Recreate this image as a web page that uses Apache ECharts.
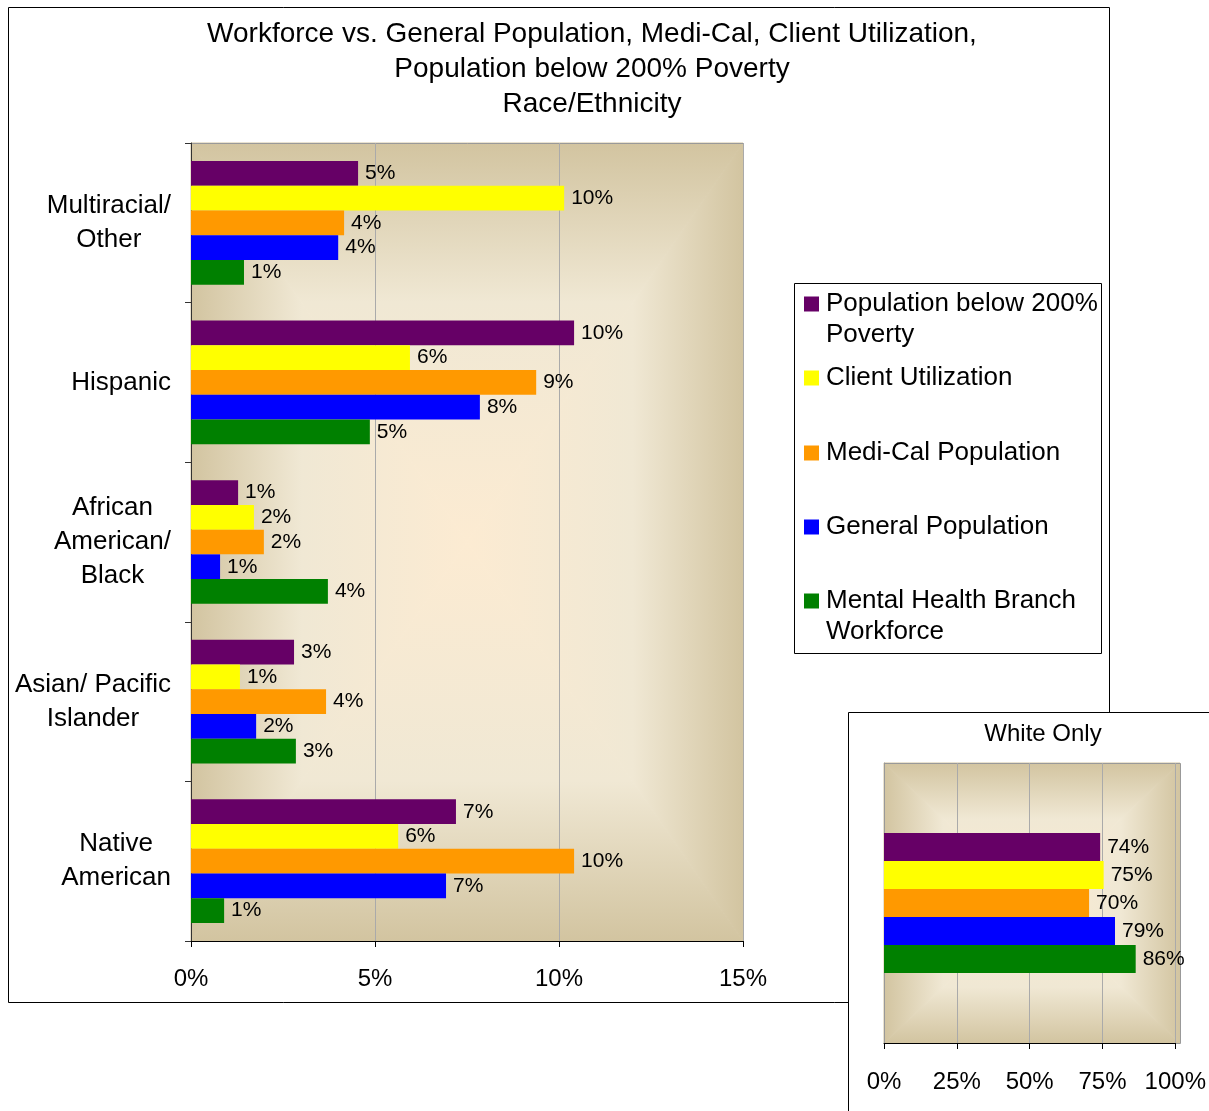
<!DOCTYPE html>
<html>
<head>
<meta charset="utf-8">
<script src="https://cdn.jsdelivr.net/npm/echarts@6/dist/echarts.min.js"></script>
<style>
  html, body { margin: 0; padding: 0; background: #fff; }
  #chart { width: 1209px; height: 1111px; }
</style>
</head>
<body>
<div id="chart"></div>
<script>
// data (percent)
var categories = ['Multiracial/\nOther', 'Hispanic', 'African\nAmerican/\nBlack', 'Asian/ Pacific\nIslander', 'Native\nAmerican'];
var seriesNames = ['Population below 200%\nPoverty', 'Client Utilization', 'Medi-Cal Population', 'General Population', 'Mental Health Branch\nWorkforce'];
var seriesColors = ['#660066', '#FFFF00', '#FF9900', '#0000FF', '#008000'];

var povertyValues = [4.54, 10.41, 1.28, 2.80, 7.20];
var clientValues = [10.14, 5.95, 1.71, 1.33, 5.63];
var mediCalValues = [4.16, 9.38, 1.98, 3.67, 10.41];
var generalValues = [4.00, 7.85, 0.79, 1.77, 6.93];
var workforceValues = [1.44, 4.86, 3.72, 2.85, 0.90];

var whiteCategory = ['White Only'];
var whiteValues = [74.2, 75.4, 70.4, 79.3, 86.4];

var mainTicks = [0, 5, 10, 15];
var whiteTicks = [0, 25, 50, 75, 100];

var mainSeriesValues = [povertyValues, clientValues, mediCalValues, generalValues, workforceValues];

var chart = echarts.init(document.getElementById('chart'));
var font = 'Liberation Sans, Arial, sans-serif';

// plot rectangles
var mainGrid = { left: 191, top: 143, width: 552, height: 798 };
var whiteGrid = { left: 884, top: 763, width: 296, height: 280 };

// Excel style "from centre" gradient, built from four triangles
function frame(g, z) {
    var x = g.left, y = g.top, w = g.width, h = g.height;
    var cx = x + w / 2, cy = y + h / 2;
    var stops = [
        { offset: 0, color: '#D2C4A0' },
        { offset: 0.4, color: '#F0E8D4' },
        { offset: 1, color: '#FCEBD2' }
    ];
    function tri(points, x1, y1, x2, y2) {
        var fill = new echarts.graphic.LinearGradient(x1, y1, x2, y2, stops);
        return { type: 'polygon', z: z, silent: true, shape: { points: points }, style: { fill: fill, stroke: fill, lineWidth: 1 } };
    }
    return [
        tri([[x, y], [x + w, y], [cx, cy]], 0, 0, 0, 1),
        tri([[x, y + h], [x + w, y + h], [cx, cy]], 0, 1, 0, 0),
        tri([[x, y], [x, y + h], [cx, cy]], 0, 0, 1, 0),
        tri([[x + w, y], [x + w, y + h], [cx, cy]], 1, 0, 0, 0),
        { type: 'rect', z: z + 0.5, silent: true, shape: { x: x + 0.5, y: y + 0.5, width: w, height: h }, style: { fill: 'none', stroke: '#999', lineWidth: 1 } }
    ];
}

var graphics = [
    { type: 'rect', z: 0, silent: true, shape: { x: 8.5, y: 7.5, width: 1101, height: 995 }, style: { fill: '#fff', stroke: '#000', lineWidth: 1 } },
    { type: 'rect', z: 0.6, silent: true, shape: { x: 848.5, y: 712.5, width: 400, height: 420 }, style: { fill: '#fff', stroke: '#000', lineWidth: 1 } },
    { type: 'rect', z: 0.6, silent: true, shape: { x: 794.5, y: 283.5, width: 307, height: 370 }, style: { fill: '#fff', stroke: '#000', lineWidth: 1 } }
].concat(frame(mainGrid, 1)).concat(frame(whiteGrid, 1));

function pct(p) {
    return Math.round(p.value) + '%';
}

function centered(value) {
    return value.split('\n').map(function (s) { return '{c|' + s + '}'; }).join('\n');
}

var series = [];
seriesNames.forEach(function (name, i) {
    series.push({
        name: name,
        type: 'bar',
        xAxisIndex: 0,
        yAxisIndex: 0,
        z: 4,
        barGap: 0,
        barCategoryGap: '22.5%',
        itemStyle: { color: seriesColors[i] },
        label: { show: true, position: 'right', distance: 7, formatter: pct, fontSize: 21, fontFamily: font, color: '#000' },
        data: mainSeriesValues[i]
    });
    series.push({
        name: name,
        type: 'bar',
        xAxisIndex: 1,
        yAxisIndex: 1,
        z: 4,
        barGap: 0,
        barCategoryGap: '50%',
        itemStyle: { color: seriesColors[i] },
        label: { show: true, position: 'right', distance: 7, formatter: pct, fontSize: 21, fontFamily: font, color: '#000' },
        data: [whiteValues[i]]
    });
});

// one legend per entry so the spacing can match the picture;
// a leading blank line puts the first text line level with the marker
var legendTops = [304, 378, 453, 527, 601];
var legends = seriesNames.map(function (name, i) {
    var twoLines = name.indexOf('\n') >= 0;
    return {
        data: [name],
        orient: 'vertical',
        left: 804,
        top: legendTops[i] - (twoLines ? 46.5 : 15.5),
        padding: 0,
        itemWidth: 15,
        itemHeight: 15,
        itemGap: 0,
        icon: 'rect',
        selectedMode: false,
        z: 5,
        formatter: function (n) {
            var lines = n.split('\n').map(function (s) { return '{t|' + s + '}'; });
            return (lines.length > 1 ? '\n' : '') + lines.join('\n');
        },
        textStyle: {
            fontSize: 26, fontFamily: font, color: '#000', lineHeight: 31,
            rich: { t: { fontSize: 26, fontFamily: font, color: '#000', lineHeight: 31, padding: [0, 0, 0, 2] } }
        }
    };
});

var option = {
    animation: false,
    textStyle: { fontFamily: font },
    title: [
        {
            text: 'Workforce vs. General Population, Medi-Cal, Client Utilization,\nPopulation below 200% Poverty\nRace/Ethnicity',
            left: 587, top: 12, textAlign: 'center',
            textStyle: { fontSize: 28, fontWeight: 'normal', color: '#000', lineHeight: 35, fontFamily: font }
        },
        {
            text: 'White Only',
            left: 1038, top: 717, textAlign: 'center',
            textStyle: { fontSize: 24, fontWeight: 'normal', color: '#000', fontFamily: font }
        }
    ],
    legend: legends,
    graphic: graphics,
    grid: [
        { left: mainGrid.left, top: mainGrid.top, width: mainGrid.width, height: mainGrid.height, containLabel: false },
        { left: whiteGrid.left, top: whiteGrid.top, width: whiteGrid.width, height: whiteGrid.height, containLabel: false }
    ],
    xAxis: [
        {
            gridIndex: 0, type: 'value', min: mainTicks[0], max: mainTicks[mainTicks.length - 1], interval: 5, z: 3,
            axisLine: { show: true, lineStyle: { color: '#000', width: 1 } },
            axisTick: { show: true, length: 6, lineStyle: { color: '#000' } },
            splitLine: { show: true, lineStyle: { color: '#AAAAAA', width: 1 } },
            axisLabel: { formatter: '{value}%', fontSize: 24, color: '#000', margin: 26, fontFamily: font }
        },
        {
            gridIndex: 1, type: 'value', min: whiteTicks[0], max: whiteTicks[whiteTicks.length - 1], interval: 25, z: 3,
            axisLine: { show: true, lineStyle: { color: '#000', width: 1 } },
            axisTick: { show: true, length: 6, lineStyle: { color: '#000' } },
            splitLine: { show: true, lineStyle: { color: '#AAAAAA', width: 1 } },
            axisLabel: { formatter: '{value}%', fontSize: 24, color: '#000', margin: 27, fontFamily: font }
        }
    ],
    yAxis: [
        {
            gridIndex: 0, type: 'category', data: categories, inverse: true, z: 3,
            axisLine: { show: true, lineStyle: { color: '#333', width: 1 } },
            axisTick: { show: true, length: 6, lineStyle: { color: '#333' } },
            axisLabel: {
                margin: 20, fontSize: 26, color: '#000', fontFamily: font, formatter: centered,
                rich: { c: { align: 'center', fontSize: 26, lineHeight: 34, fontFamily: font, color: '#000' } }
            }
        },
        {
            gridIndex: 1, type: 'category', data: whiteCategory, inverse: true, z: 3,
            axisLine: { show: true, lineStyle: { color: '#999', width: 1 } },
            axisTick: { show: false },
            axisLabel: { show: false }
        }
    ],
    series: series
};

chart.setOption(option);
</script>
</body>
</html>
